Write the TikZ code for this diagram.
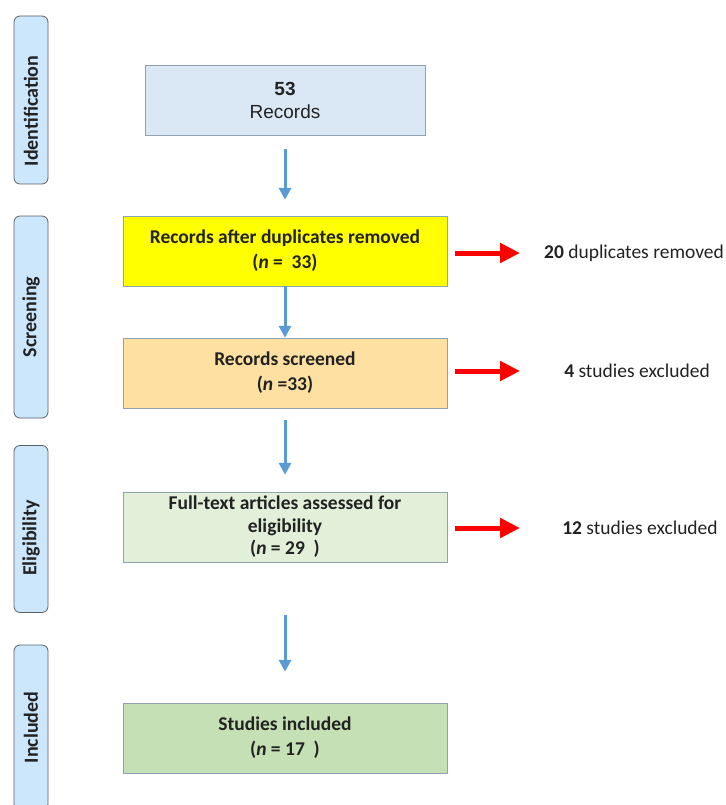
\documentclass[tikz,border=0pt]{standalone}
\usepackage{fontspec}
\setmainfont{Carlito}
\newfontfamily\recfont{Liberation Sans}
\usetikzlibrary{arrows.meta, positioning}

\definecolor{phasefill}{HTML}{CCE7FB}
\definecolor{phaseline}{HTML}{5A5F66}
\definecolor{boxline}{HTML}{8FA3B5}
\definecolor{recfill}{HTML}{DAE8F6}
\definecolor{dupfill}{HTML}{FFFF00}
\definecolor{scrfill}{HTML}{FDE0A2}
\definecolor{eligfill}{HTML}{E2F0DA}
\definecolor{inclfill}{HTML}{C6E0B5}
\definecolor{flowblue}{HTML}{5B9BD5}
\definecolor{textdark}{HTML}{222222}

\begin{document}
\begin{tikzpicture}[
            x=1pt, y=-1pt,
            box/.style={rectangle, draw=boxline, minimum width=324pt, minimum height=70pt, align=center, text=textdark, font=\bfseries\fontsize{19.5}{25}\selectfont},
            phase/.style={rectangle, draw=phaseline, fill=phasefill, rounded corners=6pt, thick, minimum height=34pt, rotate=90, text=textdark, font=\bfseries\fontsize{20}{24}\selectfont},
            note/.style={text=textdark, font=\fontsize{19.5}{24}\selectfont},
            arrow/.style={-{Triangle[length=12pt, width=12pt]}, line width=3pt, flowblue},
            outarrow/.style={-{Triangle[length=20pt, width=19pt]}, line width=5pt, red, shorten <=8pt}
        ]
            \useasboundingbox (0,0) rectangle (725,805);

            % phases on the left
            \node[phase, minimum width=168pt] (ident) at (31,100) {Identification\kern22pt};
            \node[phase, minimum width=202pt] (screen) at (31,317) {Screening};
            \node[phase, minimum width=167pt] (elig) at (31,529) {Eligibility\kern18pt};
            \node[phase, minimum width=165pt] (incl) at (31,727.5) {Included};

            % flow boxes
            \node[box, fill=recfill, minimum width=280pt, font=\recfont\fontsize{19}{23}\selectfont] (rec) at (285,100.5) {\textbf{53}\\Records};
            \node[box, fill=dupfill] (dup) at (285,251) {Records after duplicates removed\\(\textit{n} =~ 33)};
            \node[box, fill=scrfill] (scr) at (285,373) {Records screened\\(\textit{n} =33)};
            \node[box, fill=eligfill, font=\bfseries\fontsize{19.5}{22.5}\selectfont] (full) at (285,527) {Full-text articles assessed for\\eligibility\\(\textit{n} = 29~~)};
            \node[box, fill=inclfill] (stud) at (285,738) {Studies included\\(\textit{n} = 17~~)};

            % exclusions on the right
            \node[note] (dupout) at (634,253) {\textbf{20} duplicates removed};
            \node[note] (scrout) at (637,371) {\textbf{4} studies excluded};
            \node[note] (fullout) at (640,528) {\textbf{12} studies excluded};
            \coordinate (dupend) at (520,253);
            \coordinate (scrend) at (520,371);
            \coordinate (fullend) at (520,528);

            \draw[arrow, shorten <=13pt, shorten >=16pt] (rec) -- (dup);
            \draw[arrow] (dup) -- (scr);
            \draw[arrow, shorten <=12pt, shorten >=17pt] (scr) -- (full);
            \draw[arrow, shorten <=53pt, shorten >=31pt] (full) -- (stud);

            \draw[outarrow] (dup.east |- dupend) -- (dupend);
            \draw[outarrow] (scr.east |- scrend) -- (scrend);
            \draw[outarrow] (full.east |- fullend) -- (fullend);
        \end{tikzpicture}
\end{document}
